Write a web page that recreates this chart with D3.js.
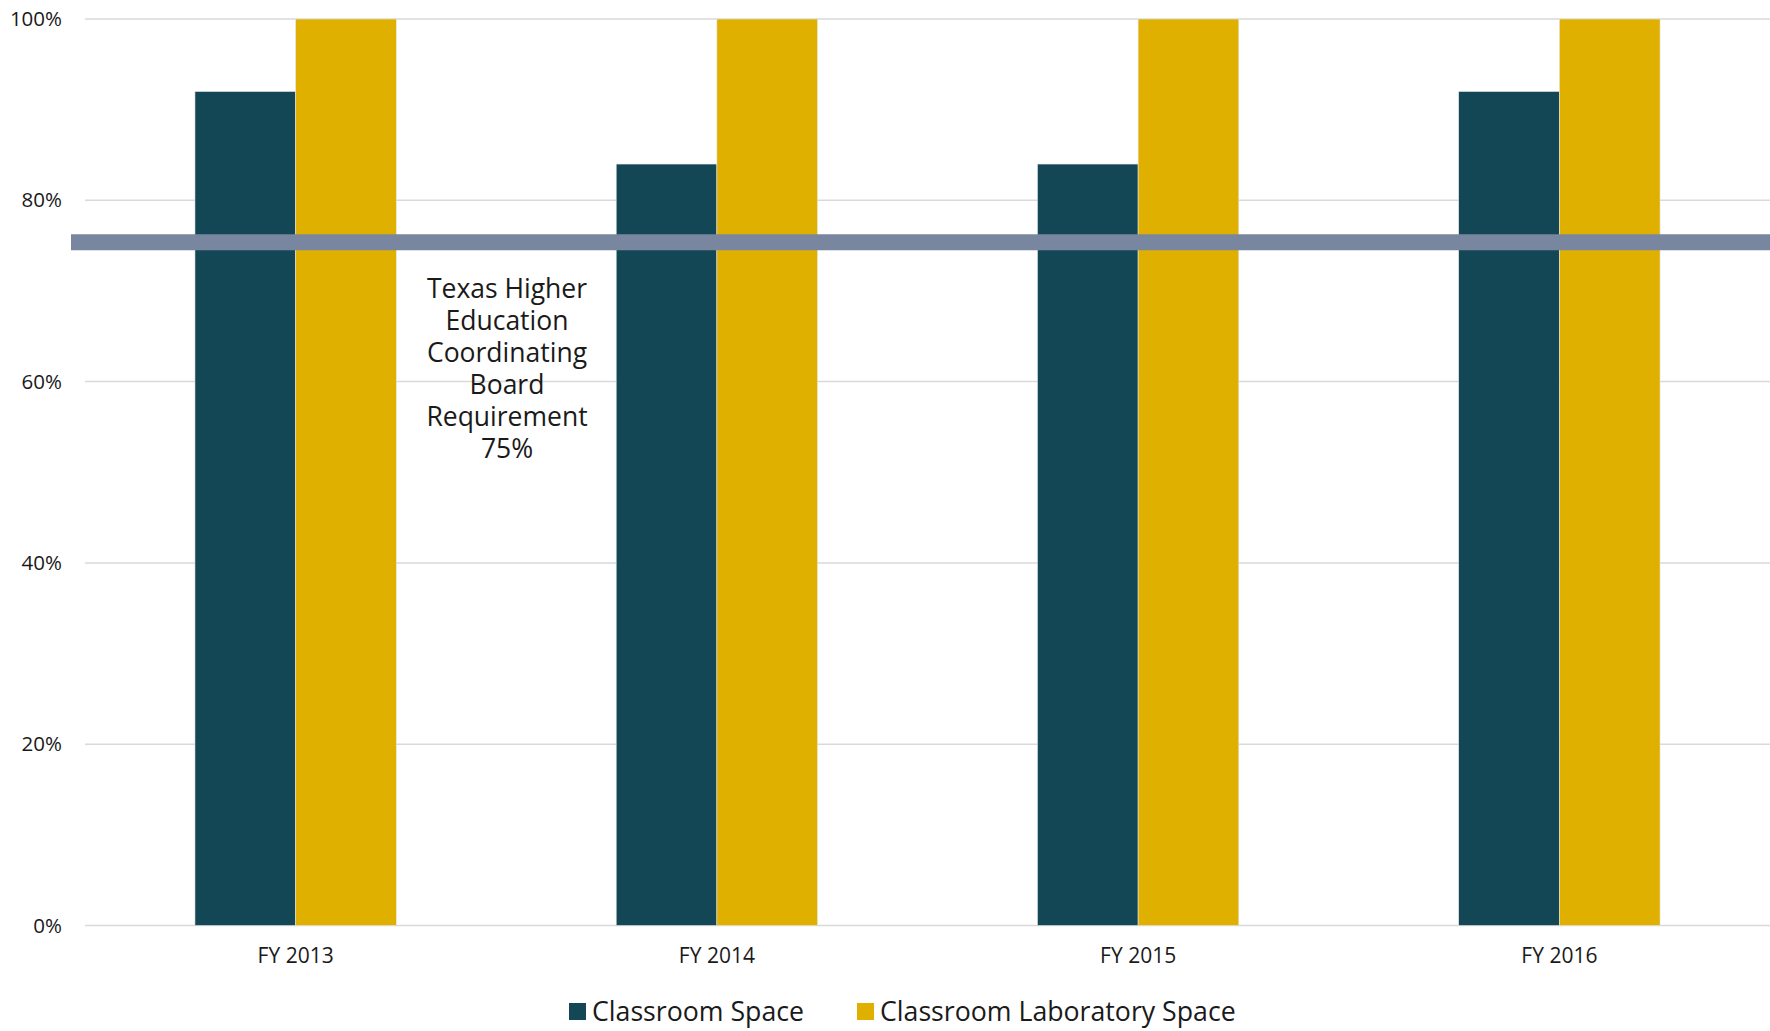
<!DOCTYPE html>
<html><head><meta charset="utf-8">
<script src="https://cdn.jsdelivr.net/npm/d3@7"></script>
<style>body{margin:0;background:#fff;}svg{display:block;font-family:"Open Sans",sans-serif;}</style>
</head><body>
<svg id="c" width="1770" height="1031"></svg>
<script>
const categories = ["FY 2013", "FY 2014", "FY 2015", "FY 2016"];
const seriesNames = ["Classroom Space", "Classroom Laboratory Space"];
const classroom = [92, 84, 84, 92];
const laboratory = [100, 100, 100, 100];
const requirement = 75;
const yTicks = [0, 20, 40, 60, 80, 100];
const annotation = ["Texas Higher", "Education", "Coordinating", "Board", "Requirement", "75%"];
const colors = ["#134756", "#E0B000"];

const FONT = "Open Sans";
const svg = d3.select("#c");
const m = {left: 85, right: 1770, top: 19, bottom: 925.5};
const x = d3.scaleBand().domain(categories).range([m.left, m.right]).paddingInner(0).paddingOuter(0);
const x1 = d3.scaleBand().domain(seriesNames).range([0, x.bandwidth() * 0.478]);
const y = d3.scaleLinear().domain([0, 100]).range([m.bottom, m.top]);

// gridlines
svg.append("g").selectAll("line").data(yTicks).join("line")
  .attr("x1", m.left).attr("x2", m.right)
  .attr("y1", d => y(d)).attr("y2", d => y(d))
  .attr("stroke", "#d9d9d9").attr("stroke-width", 1.5);

// y axis labels
const yAxis = d3.axisLeft(y).tickValues(yTicks).tickFormat(d => d + "%").tickSize(0).tickPadding(0);
const yg = svg.append("g").attr("transform", `translate(62,0)`).call(yAxis);
yg.select(".domain").remove();
yg.selectAll("text").attr("font-size", 20.5).attr("fill", "#1a1a1a").attr("font-family", FONT);

// bars
const data = categories.map((c, i) => ({cat: c, vals: [classroom[i], laboratory[i]]}));
const groupOffset = (x.bandwidth() - x1.range()[1]) / 2;
const gg = svg.append("g").selectAll("g").data(data).join("g")
  .attr("transform", d => `translate(${x(d.cat) + groupOffset},0)`);
gg.selectAll("rect").data(d => d.vals.map((v, j) => ({v, s: seriesNames[j], j}))).join("rect")
  .attr("x", d => x1(d.s)).attr("width", x1.bandwidth())
  .attr("y", d => y(d.v)).attr("height", d => y(0) - y(d.v))
  .attr("fill", d => colors[d.j])
  .attr("stroke", "#e6e6e6").attr("stroke-width", 0.6);

// x axis labels
const xAxis = d3.axisBottom(x).tickSize(0).tickPadding(0);
const xg = svg.append("g").attr("transform", `translate(0,${m.bottom + 23})`).call(xAxis);
xg.select(".domain").remove();
xg.selectAll("text").attr("font-size", 21).attr("fill", "#1a1a1a").attr("font-family", FONT);

// requirement line
svg.append("line").attr("x1", 71).attr("x2", m.right)
  .attr("y1", y(requirement) - 3.5).attr("y2", y(requirement) - 3.5)
  .attr("stroke", "#7886a0").attr("stroke-width", 16);

// annotation
const at = svg.append("text").attr("text-anchor", "middle").attr("font-size", 26.5).attr("fill", "#1a1a1a");
annotation.forEach((t, i) => at.append("tspan").attr("x", 507).attr("y", 298 + i * 32).text(t));

// legend
const legX = [569, 857];
const lg = svg.append("g").selectAll("g").data(seriesNames).join("g")
  .attr("transform", (d, i) => `translate(${legX[i]},1003)`);
lg.append("rect").attr("width", 17).attr("height", 17).attr("fill", (d, i) => colors[i]);
lg.append("text").attr("x", 23).attr("y", 18).attr("font-size", 26.7).attr("fill", "#1a1a1a").text(d => d);
</script>
</body></html>
